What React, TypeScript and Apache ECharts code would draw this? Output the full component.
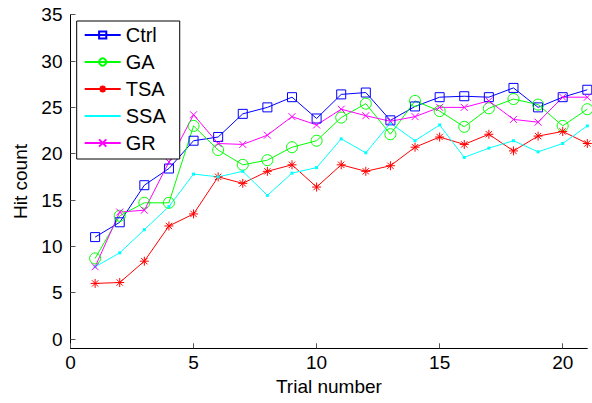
import React, { useEffect, useRef } from "react";
import * as echarts from "echarts";

const trials = [1, 2, 3, 4, 5, 6, 7, 8, 9, 10, 11, 12, 13, 14, 15, 16, 17, 18, 19, 20, 21];
const ctrl = [11.0, 12.6, 16.6, 18.4, 21.4, 21.8, 24.3, 25.0, 26.1, 23.8, 26.4, 26.6, 23.6, 25.1, 26.1, 26.2, 26.1, 27.1, 25.0, 26.1, 26.9];
const ga = [8.7, 13.3, 14.7, 14.7, 23.0, 20.4, 18.8, 19.3, 20.7, 21.4, 23.9, 25.4, 22.1, 25.7, 24.6, 22.9, 24.9, 25.9, 25.3, 23.0, 24.8];
const tsa = [6.0, 6.1, 8.4, 12.2, 13.5, 17.5, 16.8, 18.1, 18.8, 16.4, 18.8, 18.1, 18.7, 20.7, 21.8, 21.0, 22.1, 20.3, 21.9, 22.4, 21.1];
const ssa = [7.8, 9.3, 11.8, 14.3, 17.8, 17.5, 18.1, 15.5, 17.9, 18.5, 21.6, 20.1, 23.3, 21.4, 23.1, 19.6, 20.6, 21.4, 20.2, 21.1, 23.0];
const gr = [7.8, 13.7, 13.9, 19.1, 24.2, 21.1, 21.0, 22.0, 24.0, 23.1, 24.8, 24.1, 23.5, 24.0, 25.0, 25.0, 25.7, 23.7, 23.4, 26.1, 26.1];

const xTicks = [0, 5, 10, 15, 20];
const yTicks = [0, 5, 10, 15, 20, 25, 30, 35];

const FONT = "Liberation Sans";

const ASTERISK = "path://M5,0L5,10M0,5L10,5M1.5,1.5L8.5,8.5M8.5,1.5L1.5,8.5";
const CROSS = "path://M0,0L10,10M10,0L0,10";
const DOT = "path://M0,0M10,10M3.5,3.5L6.5,3.5L6.5,6.5L3.5,6.5Z";

function mk(name: string, vals: number[], color: string, symbol: string, size: number, filled: boolean) {
  return {
    name,
    type: "line",
    data: trials.map((t, i) => [t, vals[i]]),
    symbol,
    symbolSize: size,
    showAllSymbol: true,
    lineStyle: { color, width: 1 },
    itemStyle: filled
      ? { color, borderColor: color, borderWidth: 0 }
      : { color: "rgba(0,0,0,0)", borderColor: color, borderWidth: 1 },
    color,
    z: 2,
  };
}

export default function App() {
  const ref = useRef<HTMLDivElement>(null);
  useEffect(() => {
    if (!ref.current) return;
    const chart = echarts.init(ref.current, null, { renderer: "svg" });
    chart.setOption({
      animation: false,
      backgroundColor: "#fff",
      textStyle: { fontFamily: FONT },
      grid: { left: 70.5, right: 4.7, top: 14.7, bottom: 54.7, containLabel: false },
      legend: {
        orient: "vertical",
        left: 76.7,
        top: 21,
        padding: [4, 14, 6, 7],
        itemWidth: 36,
        itemHeight: 9,
        itemGap: 7,
        backgroundColor: "#fff",
        borderColor: "#000",
        borderWidth: 1,
        borderRadius: 0,
        textStyle: { fontFamily: FONT, fontSize: 20, color: "#000" },
        data: ["Ctrl", "GA", "TSA", "SSA", "GR"],
      },
      xAxis: {
        type: "value",
        min: 0,
        max: 21,
        name: "Trial number",
        nameLocation: "middle",
        nameGap: 24,
        nameTextStyle: { fontFamily: FONT, fontSize: 19, color: "#000" },
        axisLine: { show: true, onZero: false, lineStyle: { color: "#000", width: 1 } },
        axisTick: { show: true, inside: true, length: 5, customValues: xTicks, lineStyle: { color: "#555" } },
        axisLabel: { customValues: xTicks, fontFamily: FONT, fontSize: 19, color: "#000", margin: 5 },
        splitLine: { show: false },
      },
      yAxis: {
        type: "value",
        min: -1,
        max: 35,
        name: "Hit count",
        nameLocation: "middle",
        nameGap: 34,
        nameTextStyle: { fontFamily: FONT, fontSize: 19, color: "#000" },
        axisLine: { show: true, onZero: false, lineStyle: { color: "#000", width: 1 } },
        axisTick: { show: true, inside: true, length: 5, customValues: yTicks, lineStyle: { color: "#555" } },
        axisLabel: { customValues: yTicks, fontFamily: FONT, fontSize: 19, color: "#000", margin: 8 },
        splitLine: { show: false },
      },
      series: [
        mk("Ctrl", ctrl, "#0000ff", "rect", 9, false),
        mk("GA", ga, "#00ff00", "circle", 11, false),
        mk("TSA", tsa, "#ff0000", ASTERISK, 9, false),
        mk("SSA", ssa, "#00ffff", DOT, 10, true),
        mk("GR", gr, "#ff00ff", CROSS, 7, false),
      ],
    });
    return () => chart.dispose();
  }, []);
  return <div ref={ref} style={{ position: "fixed", left: 0, top: 0, width: 592, height: 403 }} />;
}
